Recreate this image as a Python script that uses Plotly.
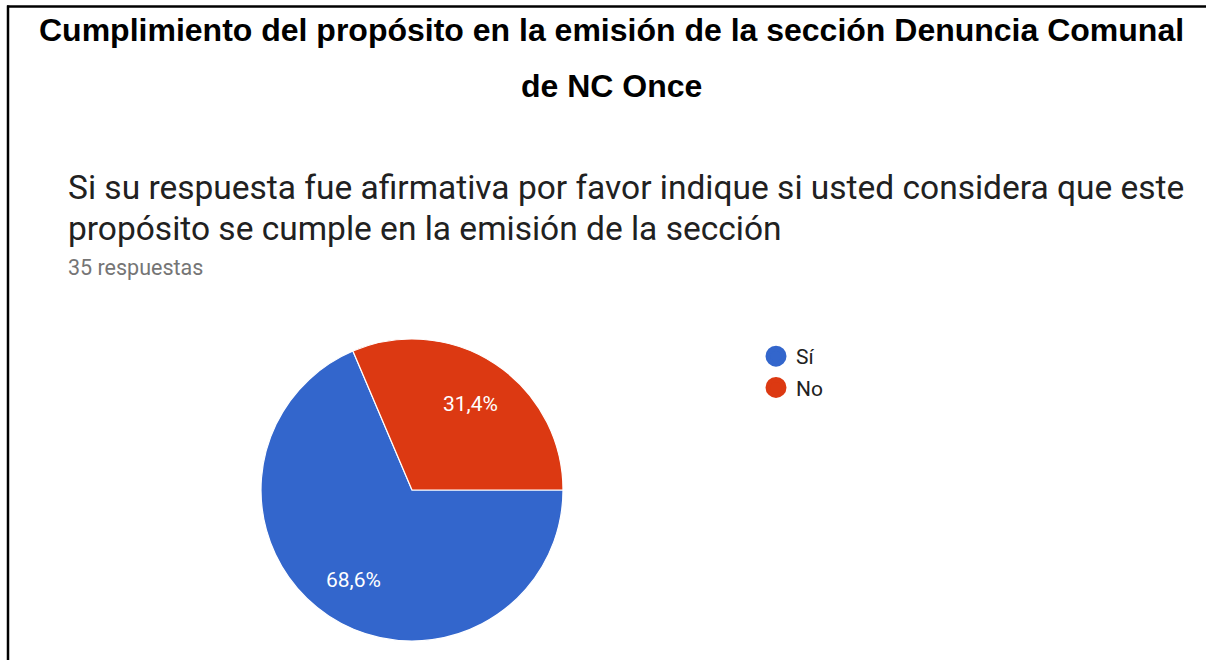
import math
import plotly.graph_objects as go

labels = ["Sí", "No"]
values = [68.6, 31.4]
colors = ["#3366CC", "#DC3912"]

title_lines = ["Cumplimiento del propósito en la emisión de la sección Denuncia Comunal",
               "de NC Once"]
question_lines = ["Si su respuesta fue afirmativa por favor indique si usted considera que este",
                  "propósito se cumple en la emisión de la sección"]
responses_note = "35 respuestas"

W, H = 1206, 660

def px(x):
    return x / W

def py(y):
    return 1 - y / H

# pie geometry (pixels)
cx, cy, R = 412, 490, 151
ROT = 90  # first slice starts at 3 o'clock, clockwise

fig = go.Figure()
fig.add_trace(go.Pie(
    labels=labels, values=values, sort=False, direction="clockwise", rotation=ROT,
    marker=dict(colors=colors, line=dict(color="white", width=1.2)),
    textinfo="none",
    showlegend=False, hoverinfo="label+percent",
    domain=dict(x=[px(cx - R), px(cx + R)], y=[py(cy + R), py(cy - R)]),
))
for lab, col in zip(labels, colors):
    fig.add_trace(go.Scatter(
        x=[None], y=[None], mode="markers", name=lab, legendgroup=lab,
        marker=dict(color=col, size=16, symbol="circle", line=dict(color=col, width=5)),
        showlegend=True,
    ))

fig.update_layout(
    width=W, height=H, margin=dict(l=0, r=0, t=0, b=0),
    paper_bgcolor="white", plot_bgcolor="white",
    xaxis=dict(visible=False), yaxis=dict(visible=False),
    legend=dict(x=px(756), y=py(336), xanchor="left", yanchor="top",
                font=dict(family="Roboto, Arial", size=21, color="#212121"),
                tracegroupgap=1, itemwidth=30, bgcolor="rgba(0,0,0,0)"),
    font=dict(family="Roboto, Arial"),
)

anns = []
anns.append(dict(text="<b>%s</b>" % title_lines[0], x=px(611), y=py(30), xanchor="center", yanchor="middle",
                 font=dict(family="Liberation Sans, Arial", size=32, color="black")))
anns.append(dict(text="<b>%s</b>" % title_lines[1], x=px(611), y=py(86), xanchor="center", yanchor="middle",
                 font=dict(family="Liberation Sans, Arial", size=32, color="black")))
anns.append(dict(text=question_lines[0], x=px(66), y=py(187), xanchor="left", yanchor="middle",
                 font=dict(family="Roboto", size=33.5, color="#212121")))
anns.append(dict(text=question_lines[1], x=px(66), y=py(229), xanchor="left", yanchor="middle",
                 font=dict(family="Roboto", size=33.5, color="#212121")))
anns.append(dict(text=responses_note, x=px(66), y=py(268), xanchor="left", yanchor="middle",
                 font=dict(family="Roboto", size=21.5, color="#757575")))

# percentage labels placed at the slice mid-angle, computed from the data
total = sum(values)
start = ROT
for v in values:
    frac = v / total
    mid = start + frac * 360 / 2
    start += frac * 360
    ang = math.radians(mid)
    lx = cx + 0.7 * R * math.sin(ang)
    ly = cy - 0.7 * R * math.cos(ang)
    txt = ("%.1f%%" % (frac * 100)).replace(".", ",")
    anns.append(dict(text=txt, x=px(lx), y=py(ly + 2), xanchor="center", yanchor="middle",
                     font=dict(family="Roboto, Arial", size=21, color="white")))

for a in anns:
    a.update(xref="paper", yref="paper", showarrow=False)
fig.update_layout(annotations=anns)

fig.update_layout(shapes=[
    dict(type="line", xref="paper", yref="paper", x0=px(7), x1=1, y0=py(6.5), y1=py(6.5),
         line=dict(color="black", width=2.5)),
    dict(type="line", xref="paper", yref="paper", x0=px(8), x1=px(8), y0=py(5.5), y1=0,
         line=dict(color="black", width=2.5)),
])

fig.write_html("out.html", config={"displayModeBar": False},
               post_script="document.body.style.margin='0';document.body.style.overflow='hidden';")
